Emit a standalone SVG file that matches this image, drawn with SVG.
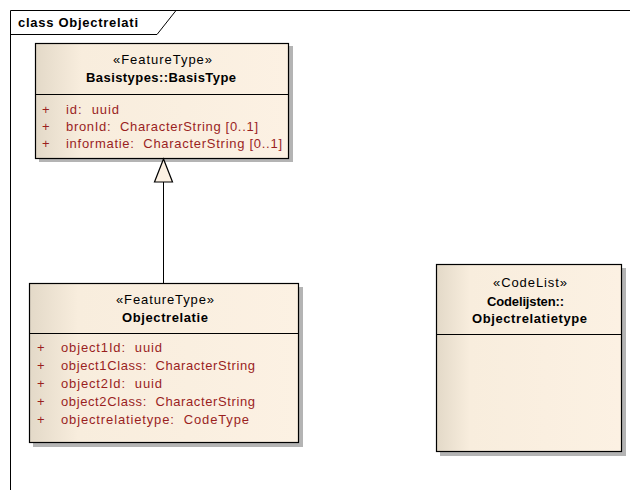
<svg xmlns="http://www.w3.org/2000/svg" width="630" height="490" viewBox="0 0 630 490">
<defs>
<linearGradient id="fillg" x1="0" y1="0" x2="1" y2="0" gradientUnits="objectBoundingBox">
<stop offset="0" stop-color="#e3d9c8"/>
<stop offset="0.18" stop-color="#f8eddd"/>
<stop offset="1" stop-color="#fcf1e3"/>
</linearGradient>
<style>
text{font-family:"Liberation Sans",Arial,sans-serif;font-size:13px;white-space:pre;}
.t{font-weight:bold;fill:#000;}
.st{fill:#000;text-anchor:middle;}
.nm{font-weight:bold;fill:#000;text-anchor:middle;}
.at{fill:#9a1f1f;}
.box{fill:url(#fillg);stroke:#000;stroke-width:1.2;}
.sh{fill:#b4b4b4;}
.ln{stroke:#000;stroke-width:1;fill:none;}
</style>
</defs>
<rect x="0" y="0" width="630" height="490" fill="#fff"/>
<g id="frame">
<path class="ln" d="M10.5,490 L10.5,10.5 L630,10.5"/>
<path class="ln" d="M10.5,34.5 L157,34.5 L176,10.5"/>
<text class="t" x="18" y="27" textLength="120" lengthAdjust="spacing">class Objectrelati</text>
</g>
<g id="BasisType">
<rect class="sh" x="39" y="46" width="254" height="116"/>
<rect class="box" x="35.5" y="43.5" width="253" height="115"/>
<line class="ln" x1="35.5" y1="94.5" x2="288.5" y2="94.5"/>
<text class="st" x="162.5" y="64" textLength="99" lengthAdjust="spacing">«FeatureType»</text>
<text class="nm" x="161" y="82" textLength="150" lengthAdjust="spacing">Basistypes::BasisType</text>
<text class="at" x="42" y="114">+</text><text class="at" x="66" y="114" textLength="53" lengthAdjust="spacing">id:  uuid</text>
<text class="at" x="42" y="131">+</text><text class="at" x="66" y="131" textLength="192" lengthAdjust="spacing">bronId:  CharacterString [0..1]</text>
<text class="at" x="42" y="148">+</text><text class="at" x="66" y="148" textLength="216" lengthAdjust="spacing">informatie:  CharacterString [0..1]</text>
</g>
<g id="Objectrelatie">
<rect class="sh" x="33" y="287" width="270" height="160"/>
<rect class="box" x="29.5" y="283.5" width="269" height="159"/>
<line class="ln" x1="29.5" y1="333.5" x2="298.5" y2="333.5"/>
<text class="st" x="165" y="304" textLength="98" lengthAdjust="spacing">«FeatureType»</text>
<text class="nm" x="165" y="322" textLength="86" lengthAdjust="spacing">Objectrelatie</text>
<text class="at" x="37" y="352">+</text><text class="at" x="61" y="352" textLength="101" lengthAdjust="spacing">object1Id:  uuid</text>
<text class="at" x="37" y="370">+</text><text class="at" x="61" y="370" textLength="194" lengthAdjust="spacing">object1Class:  CharacterString</text>
<text class="at" x="37" y="388">+</text><text class="at" x="61" y="388" textLength="101" lengthAdjust="spacing">object2Id:  uuid</text>
<text class="at" x="37" y="406">+</text><text class="at" x="61" y="406" textLength="194" lengthAdjust="spacing">object2Class:  CharacterString</text>
<text class="at" x="37" y="424">+</text><text class="at" x="61" y="424" textLength="188" lengthAdjust="spacing">objectrelatietype:  CodeType</text>
</g>
<g id="Objectrelatietype">
<rect class="sh" x="440" y="268" width="186" height="188"/>
<rect class="box" x="436.5" y="264.5" width="185" height="187"/>
<line class="ln" x1="436.5" y1="334.5" x2="621.5" y2="334.5"/>
<text class="st" x="530" y="287" textLength="74" lengthAdjust="spacing">«CodeList»</text>
<text class="nm" x="525.5" y="306" textLength="77" lengthAdjust="spacing">Codelijsten::</text>
<text class="nm" x="529.5" y="323" textLength="115" lengthAdjust="spacing">Objectrelatietype</text>
</g>
<g id="connectors">
<line class="ln" x1="163.5" y1="283" x2="163.5" y2="182"/>
<polygon points="163.5,159 154.5,182 172.5,182" fill="#fcf1e3" stroke="#000" stroke-width="1.2"/>
</g>
</svg>
